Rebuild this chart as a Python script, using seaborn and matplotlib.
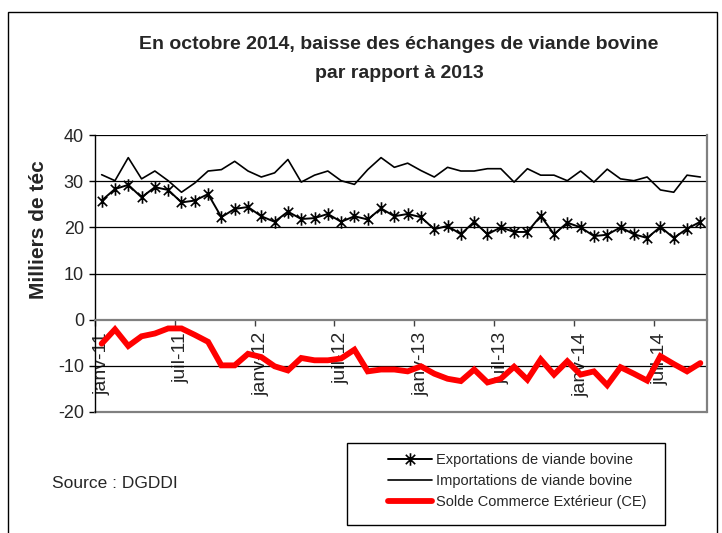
import numpy as np
import pandas as pd
import matplotlib
matplotlib.use("Agg")
import matplotlib.pyplot as plt
from matplotlib.path import Path
from matplotlib.patches import Rectangle
import seaborn as sns

# ---- data (monthly, janv-11 .. oct-14) ----
exports = [25.8, 28.3, 29.2, 26.5, 28.7, 28.1, 25.4, 25.8, 27.2, 22.2, 24.0, 24.4,
           22.4, 21.2, 23.4, 21.8, 22.0, 22.9, 21.2, 22.4, 21.7, 24.1, 22.4, 22.9,
           22.2, 19.6, 20.3, 18.5, 21.2, 18.5, 20.0, 19.0, 19.0, 22.5, 18.5, 21.0,
           20.0, 18.1, 18.4, 20.0, 18.5, 17.7, 20.1, 17.7, 19.7, 21.2]
imports = [31.4, 30.1, 35.1, 30.5, 32.2, 30.1, 27.6, 29.6, 32.2, 32.5, 34.3, 32.2,
           30.9, 31.8, 34.7, 29.8, 31.3, 32.2, 30.1, 29.3, 32.5, 35.1, 33.0, 33.9,
           32.3, 30.9, 33.0, 32.2, 32.2, 32.7, 32.7, 29.8, 32.7, 31.3, 31.3, 30.1,
           32.2, 29.8, 32.6, 30.5, 30.1, 30.9, 28.1, 27.6, 31.3, 30.9]
solde = [-5.2, -2.1, -5.7, -3.6, -3.0, -1.9, -1.9, -3.3, -4.8, -9.9, -9.9, -7.4,
         -8.1, -10.1, -11.0, -8.3, -8.8, -8.8, -8.4, -6.5, -11.2, -10.8, -10.8, -11.2,
         -10.1, -11.7, -12.8, -13.3, -10.8, -13.6, -12.8, -10.2, -13.0, -8.6, -11.9, -9.0,
         -11.9, -11.2, -14.2, -10.3, -11.7, -13.2, -7.9, -9.6, -11.2, -9.4]
tick_labels = ["janv-11", "juil-11", "janv-12", "juil-12",
               "janv-13", "juil-13", "janv-14", "juil-14"]
y_ticks = [-20, -10, 0, 10, 20, 30, 40]
series_names = ["Exportations de viande bovine",
                "Importations de viande bovine",
                "Solde Commerce Extérieur (CE)"]

months = np.arange(len(exports))
df = pd.DataFrame({"month": months, "exp": exports, "imp": imports, "solde": solde})

sns.set_style("white")
plt.rcParams["font.family"] = ["Liberation Sans", "DejaVu Sans"]

W, H = 722, 533
fig = plt.figure(figsize=(W / 100, H / 100), dpi=100)
ax = fig.add_axes([95 / W, 1 - 412 / H, 612 / W, 277 / H])

star = Path([(0, -1), (0, 1), (-0.75, -0.75), (0.75, 0.75), (-0.75, 0.75), (0.75, -0.75)],
            [Path.MOVETO, Path.LINETO, Path.MOVETO, Path.LINETO, Path.MOVETO, Path.LINETO])

sns.lineplot(data=df, x="month", y="exp", ax=ax, color="black", lw=1.4,
             marker=star, markersize=9, markeredgewidth=1.2, markeredgecolor="black",
             label=series_names[0], zorder=3)
sns.lineplot(data=df, x="month", y="imp", ax=ax, color="black", lw=1.2,
             label=series_names[1], zorder=3)
sns.lineplot(data=df, x="month", y="solde", ax=ax, color="#ff0000", lw=4.2,
             solid_capstyle="round", solid_joinstyle="miter",
             label=series_names[2], zorder=4)

ax.set_xlim(-0.5, len(exports) - 0.5)
ax.set_ylim(-20, 40)

# gridlines
for g in [-10, 10, 20, 30, 40]:
    ax.axhline(g, color="black", lw=0.9, zorder=1)
ax.axhline(-20, color="#808080", lw=1.6, zorder=1, clip_on=False)

# spines
ax.spines["top"].set_visible(False)
ax.spines["left"].set_color("black")
ax.spines["left"].set_linewidth(1.0)
ax.spines["right"].set_color("#808080")
ax.spines["right"].set_linewidth(1.6)
ax.spines["bottom"].set_position(("data", 0))
ax.spines["bottom"].set_color("#808080")
ax.spines["bottom"].set_linewidth(1.6)

# y ticks
ax.set_yticks(y_ticks)
ax.set_yticklabels([str(v) for v in y_ticks])
ax.tick_params(axis="y", direction="out", length=4, width=1, color="black",
               labelsize=13, pad=4, left=True)

# x ticks: marks at 6-month boundaries, labels at month centres
ax.set_xticks(np.arange(-0.5, len(exports), 6))
ax.set_xticklabels([])
ax.set_xticks(np.arange(0, len(exports), 6), minor=True)
ax.set_xticklabels(tick_labels, minor=True, rotation=90, fontsize=14)
ax.tick_params(axis="x", which="major", direction="out", length=4, width=1,
               color="#404040", bottom=True)
ax.tick_params(axis="x", which="minor", length=0, pad=9, bottom=True)
ax.set_xlabel("")
ax.set_ylabel("")

# legend
handles, labels = ax.get_legend_handles_labels()
ax.legend(handles, labels, loc="center left",
          bbox_to_anchor=(388 / W, 1 - 481 / H), bbox_transform=fig.transFigure,
          frameon=False, fontsize=10.5, handlelength=3.0, handletextpad=0.3,
          labelspacing=0.5, borderpad=0, borderaxespad=0)
fig.patches.append(Rectangle((347 / W, 1 - 525 / H), 318 / W, 82 / H,
                             transform=fig.transFigure, fill=False,
                             edgecolor="black", lw=1.0))

# outer chart border
fig.patches.append(Rectangle((8 / W, -0.05), 709 / W, 1.05 - 12 / H,
                             transform=fig.transFigure, fill=False,
                             edgecolor="black", lw=1.0))

# texts
fig.text(399 / W, 1 - 45 / H, "En octobre 2014, baisse des échanges de viande bovine",
         ha="center", va="center", fontsize=14, fontweight="bold")
fig.text(399 / W, 1 - 73 / H, "par rapport à 2013",
         ha="center", va="center", fontsize=14, fontweight="bold")
fig.text(38 / W, 1 - 230 / H, "Milliers de téc", rotation=90,
         ha="center", va="center", fontsize=15, fontweight="bold")
fig.text(52 / W, 1 - 484 / H, "Source : DGDDI", ha="left", va="center", fontsize=12.5)

fig.savefig("out.png", dpi=100)
